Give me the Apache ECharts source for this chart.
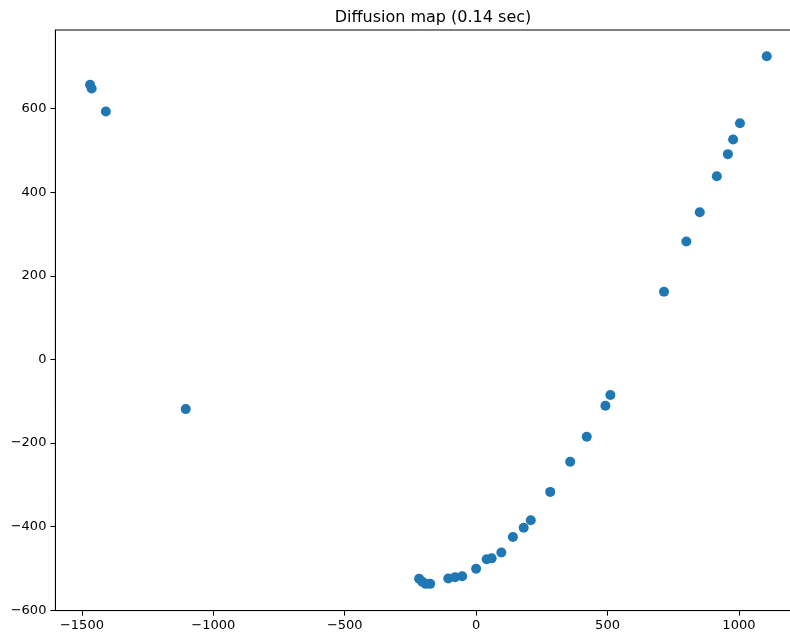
<!DOCTYPE html>
<html>
<head>
<meta charset="utf-8">
<title>Diffusion map</title>
<script src="https://cdn.jsdelivr.net/npm/echarts@6/dist/echarts.min.js"></script>
<style>
  html, body { margin: 0; padding: 0; background: #ffffff; }
  #chart { width: 790px; height: 636px; }
</style>
</head>
<body>
<div id="chart"></div>
<script>
// Embedding coordinates (component 1, component 2)
const xValues = [
  -1469, -1463, -1409, -1105,
  1106, 1004, 978, 958, 916, 851, 800, 715,
  511, 492, 421, 358, 282, 208, 181, 140,
  96, 59, 40, 0, -53, -80, -106,
  -175, -192, -205, -217
];
const yValues = [
  657, 648, 593, -119,
  725, 565, 526, 491, 438, 352, 282, 162,
  -85, -111, -185, -245, -317, -385, -403, -425,
  -462, -476, -478, -501, -519, -521, -524,
  -537, -537, -532, -525
];

const xTicks = [-1500, -1000, -500, 0, 500, 1000];
const yTicks = [-600, -400, -200, 0, 200, 400, 600];

const titleText = 'Diffusion map (0.14 sec)';

const points = xValues.map((x, i) => [x, yValues[i]]);

const font = 'DejaVu Sans';
const chart = echarts.init(document.getElementById('chart'), null, { renderer: 'canvas' });

const axisCommon = {
  type: 'value',
  scale: true,
  splitLine: { show: false },
  axisLine: { show: true, onZero: false, lineStyle: { color: '#000', width: 1 } },
  axisTick: { show: true, length: 5, lineStyle: { color: '#000', width: 1 } },
};

chart.setOption({
  animation: false,
  backgroundColor: '#ffffff',
  title: {
    text: titleText,
    left: 428,
    textAlign: 'center',
    top: 4,
    textStyle: { fontFamily: font, fontSize: 16, fontWeight: 'normal', color: '#000', lineHeight: 18 }
  },
  grid: {
    left: 55.4,
    top: 30,
    width: 745,
    height: 580.6,
    containLabel: false,
    outerBoundsMode: 'none',
    show: true,
    borderColor: '#000',
    borderWidth: 1,
    backgroundColor: 'transparent'
  },
  xAxis: Object.assign({}, axisCommon, {
    min: -1601,
    max: 1234,
    axisTick: Object.assign({}, axisCommon.axisTick, { customValues: xTicks }),
    axisLabel: {
      customValues: xTicks,
      margin: 9,
      fontFamily: font,
      fontSize: 13,
      color: '#000',
      formatter: v => String(v).replace('-', '\u2212')
    }
  }),
  yAxis: Object.assign({}, axisCommon, {
    min: -601,
    max: 788,
    axisTick: Object.assign({}, axisCommon.axisTick, { customValues: yTicks }),
    axisLabel: {
      customValues: yTicks,
      margin: 9,
      fontFamily: font,
      fontSize: 13,
      color: '#000',
      formatter: v => String(v).replace('-', '\u2212')
    }
  }),
  series: [{
    type: 'scatter',
    data: points,
    symbol: 'circle',
    symbolSize: 10,
    itemStyle: { color: '#1f77b4', opacity: 1 },
    emphasis: { disabled: true }
  }]
});
</script>
</body>
</html>
